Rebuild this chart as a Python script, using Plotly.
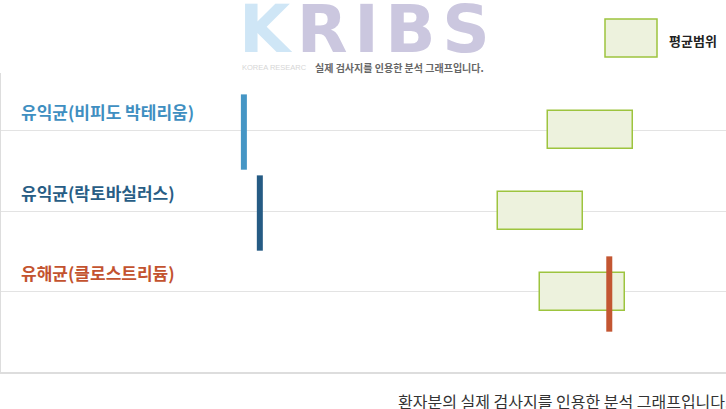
import plotly.graph_objects as go

# data (x scale 0-100)
categories = ['유익균(비피도 박테리움)', '유익균(락토바실러스)', '유해균(클로스트리듐)']
patient_vals = [33.5, 35.7, 83.9]
range_low = [75.5, 68.6, 74.4]
range_high = [87.2, 80.3, 86.1]
label_colors = ['#3f8fc1', '#285d85', '#c3532f']
bar_colors = ['#4596c5', '#255b84', '#c35632']

FONT = 'Noto Sans CJK KR'
W, H = 726, 409
ML, MT, MB = 1, 73, 37


def px_x(p):
    return (p - ML) / (W - ML)


def px_y(p):
    return (H - MB - p) / (H - MT - MB)


fig = go.Figure()

# average range boxes
fig.add_trace(go.Bar(
    y=list(range(len(categories))),
    x=[h - l for l, h in zip(range_low, range_high)],
    base=range_low,
    orientation='h',
    width=0.47,
    marker=dict(color='#edf2dd', line=dict(color='#9dc43e', width=1.5)),
    hoverinfo='skip', showlegend=False,
))

# patient values as thin vertical bars
for i, v in enumerate(patient_vals):
    fig.add_trace(go.Scatter(
        x=[v, v], y=[i - 0.44, i + 0.49], mode='lines',
        line=dict(color=bar_colors[i], width=6),
        hoverinfo='skip', showlegend=False,
    ))

# category labels
for i, c in enumerate(categories):
    fig.add_annotation(
        x=px_x(19), xref='paper', xanchor='left',
        y=i, yref='y', yshift=19, yanchor='middle',
        text='<b>' + c + '</b>', showarrow=False,
        font=dict(family=FONT, size=17, color=label_colors[i]),
    )

# legend box
fig.add_shape(type='rect', xref='paper', yref='paper',
              x0=px_x(605), x1=px_x(657), y0=px_y(57), y1=px_y(19),
              fillcolor='#edf2dd', line=dict(color='#9dc43e', width=1.5))
fig.add_annotation(x=px_x(667), xref='paper', xanchor='left',
                   y=px_y(40), yref='paper', yanchor='middle',
                   text='<b>평균범위</b>', showarrow=False,
                   font=dict(family=FONT, size=13, color='#222'))

# watermark logo
hs = '\u200a'
fig.add_annotation(x=px_x(364), xref='paper', xanchor='center',
                   y=px_y(29), yref='paper', yanchor='middle',
                   text="<b><span style='color:#cfe6f6'>K</span>"
                        "<span style='color:#cbc7df'>" + hs + 'R' + hs + 'I' + hs + 'B' + hs + 'S'
                        + "</span></b>",
                   showarrow=False, font=dict(family='DejaVu Sans', size=66))
fig.add_annotation(x=px_x(240), xref='paper', xanchor='left',
                   y=px_y(67), yref='paper', yanchor='middle',
                   text='KOREA RESEARC', showarrow=False,
                   font=dict(family='Liberation Sans', size=7.5, color='#d6d6d6'))
fig.add_annotation(x=px_x(313), xref='paper', xanchor='left',
                   y=px_y(67), yref='paper', yanchor='middle',
                   text='<b>실제 검사지를 인용한 분석 그래프입니다.</b>', showarrow=False,
                   font=dict(family=FONT, size=10, color='#666'))

# footnote
fig.add_annotation(x=px_x(396), xref='paper', xanchor='left',
                   y=px_y(401), yref='paper', yanchor='middle',
                   text='환자분의 실제 검사지를 인용한 분석 그래프입니다.', showarrow=False,
                   font=dict(family=FONT, size=16, color='#333'))

fig.update_layout(
    width=W, height=H,
    margin=dict(l=ML, r=0, t=MT, b=MB),
    paper_bgcolor='white', plot_bgcolor='white',
    xaxis=dict(range=[0, 100], showgrid=False, zeroline=False, showticklabels=False,
               showline=True, linecolor='#dddddd', linewidth=2, fixedrange=True),
    yaxis=dict(range=[2.988, -0.704], showgrid=True, gridcolor='#e3e3e3', gridwidth=1,
               tickvals=list(range(len(categories))), showticklabels=False,
               zeroline=False, showline=True, linecolor='#dddddd', linewidth=2,
               fixedrange=True),
    bargap=0,
)

fig.write_html('out.html', config={'displayModeBar': False},
               post_script="document.body.style.margin='0';")
